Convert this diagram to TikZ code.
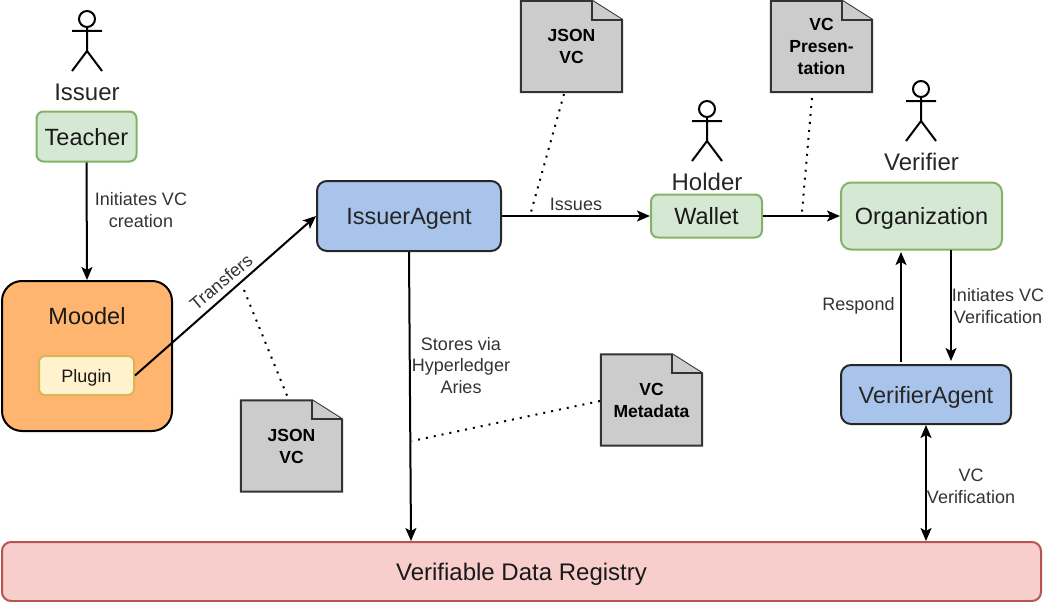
\documentclass[tikz,border=0pt]{standalone}
\usepackage{fontspec}
\setmainfont{Liberation Sans}
\usetikzlibrary{arrows.meta,calc}
\definecolor{grn}{HTML}{D5E8D4}\definecolor{grnd}{HTML}{82B366}
\definecolor{blu}{HTML}{A9C4EB}
\definecolor{org}{HTML}{FFB570}
\definecolor{yel}{HTML}{FFF2CC}\definecolor{yeld}{HTML}{D6B656}
\definecolor{red1}{HTML}{F8CECC}\definecolor{redd}{HTML}{B85450}
\definecolor{gry}{HTML}{CCCCCC}\definecolor{gryd}{HTML}{333333}
\tikzset{
 box/.style={rectangle,rounded corners=#1,align=center,inner sep=0pt,line width=2pt,text height=17pt,text depth=0pt},
 greenbox/.style={box=7pt,draw=grnd,fill=grn,font=\fontsize{23.5}{26}\selectfont,text=black!90},
 bluebox/.style={box=10pt,draw=black!85,fill=blu,font=\fontsize{23.5}{26}\selectfont,text=black!85},
 docnode/.style={rectangle,minimum width=101pt,minimum height=91pt,inner sep=0pt},
 arr/.style={draw=black,line width=2pt,-{Stealth[length=13pt,width=11pt,inset=3pt]}},
 dots/.style={draw=black,line width=2pt,dash pattern=on 2pt off 6pt},
 lbl/.style={align=center,font=\fontsize{18}{21.7}\selectfont,text=black!80,inner sep=0pt},
 actorlbl/.style={font=\fontsize{24}{26}\selectfont,text=black!85,inner sep=0pt},
}
% name, centre x, centre y, text
\newcommand{\docsheet}[4]{%
 \node[docnode] (#1) at (#2,#3) {};
 \draw[line width=2pt,draw=gryd,fill=gry,line join=miter]
   (#1.north west) -- ($(#1.north east)+(-30,0)$) -- ($(#1.north east)+(0,19)$) -- (#1.south east) -- (#1.south west) -- cycle;
 \draw[line width=2pt,draw=gryd,fill=gry]
   ($(#1.north east)+(-30,0)$) -- ($(#1.north east)+(-30,19)$) -- ($(#1.north east)+(0,19)$);
 \node[font=\fontsize{17.5}{22}\selectfont\bfseries,align=center,inner sep=0pt,text=black] at (#2,#3) {#4};
}
% centre x, head centre y
\newcommand{\stickman}[2]{%
 \draw[line width=2pt,draw=black] (#1,#2) circle[radius=8];
 \draw[line width=2pt,draw=black] (#1,#2+8) -- (#1,#2+32) (#1-15,#2+12) -- (#1+15,#2+12) (#1-15,#2+52) -- (#1,#2+32) -- (#1+15,#2+52);
}
\begin{document}
\begin{tikzpicture}[x=1pt,y=-1pt]
\useasboundingbox (0,0) rectangle (1047,602);
% actors
\stickman{87}{19}
\stickman{707}{109}
\stickman{921}{89}
\node[actorlbl] (issuerlbl) at (87,92) {Issuer};
\node[actorlbl] (holderlbl) at (707,182) {Holder};
\node[actorlbl] (verifierlbl) at (921.5,162) {Verifier};
% boxes
\node[greenbox,minimum width=100pt,minimum height=50pt] (teacher) at (86.5,136.5) {Teacher};
\node[box=20pt,draw=black,fill=org,minimum width=170pt,minimum height=150pt] (moodel) at (87,356) {};
\node[font=\fontsize{23.5}{26}\selectfont,text=black!90] (moodeltxt) at (87,316) {Moodel};
\node[box=6pt,draw=yeld,fill=yel,minimum width=95pt,minimum height=39pt,text height=13pt,font=\fontsize{18}{20}\selectfont,text=black!90] (plugin) at (86.5,375.5) {Plugin};
\node[bluebox,minimum width=184pt,minimum height=70pt] (issuer) at (409,216) {IssuerAgent};
\node[greenbox,minimum width=111pt,minimum height=43pt] (wallet) at (706.5,216) {Wallet};
\node[greenbox,minimum width=161pt,minimum height=67pt,rounded corners=10pt] (orgn) at (921.5,216) {Organization};
\node[bluebox,minimum width=170pt,minimum height=59pt] (verifier) at (926,394.5) {VerifierAgent};
\node[box=9pt,draw=redd,fill=red1,minimum width=1039pt,minimum height=59pt,font=\fontsize{24}{26}\selectfont,text=black!90] (registry) at (521.5,571.5) {Verifiable Data Registry};
% documents
\docsheet{doca}{571.5}{46.5}{JSON\\VC}
\docsheet{docb}{821.5}{46.5}{VC\\Presen-\\tation}
\docsheet{docc}{291.5}{446}{JSON\\VC}
\docsheet{docd}{651.5}{400}{VC\\Metadata}
% free connector ends
\coordinate (regtop) at (411,541);
\coordinate (orgdown) at (951,250);
\coordinate (vdown) at (951,361);
\coordinate (vup) at (901,362);
\coordinate (orgup) at (901,252);
\coordinate (vvb) at (926,425);
\coordinate (vvr) at (926,541);
\coordinate (dotaA) at (564,94);\coordinate (dotaB) at (531,212);
\coordinate (dotbA) at (812,98);\coordinate (dotbB) at (802,212);
\coordinate (dotcA) at (244,290);\coordinate (dotcB) at (288,398);
\coordinate (dotdA) at (600,401);\coordinate (dotdB) at (412,441);
% connectors
\draw[arr] (teacher.south) -- (moodel.north);
\draw[arr] (plugin.east) -- (issuer.west);
\draw[arr] (issuer.east) -- (wallet.west);
\draw[arr] (wallet.east) -- (orgn.west);
\draw[arr] (issuer.south) -- (regtop);
\draw[arr] (orgdown) -- (vdown);
\draw[arr] (vup) -- (orgup);
\draw[arr,{Stealth[length=13pt,width=11pt,inset=3pt]}-{Stealth[length=13pt,width=11pt,inset=3pt]}] (vvb) -- (vvr);
\draw[dots] (dotaA) -- (dotaB);
\draw[dots] (dotbA) -- (dotbB);
\draw[dots] (dotcA) -- (dotcB);
\draw[dots] (dotdA) -- (dotdB);
% labels
\node[lbl] (l1) at (141,210) {Initiates VC\\creation};
\node[lbl,rotate=40] (l2) at (221,282) {Transfers};
\node[lbl] (l3) at (576,204) {Issues};
\node[lbl] (l4) at (461,365.5) {Stores via\\Hyperledger\\Aries};
\node[lbl] (l5) at (858.5,306) {Respond};
\node[lbl] (l6) at (998,306) {Initiates VC\\Verification};
\node[lbl] (l7) at (971,486) {VC\\Verification};
\end{tikzpicture}
\end{document}
